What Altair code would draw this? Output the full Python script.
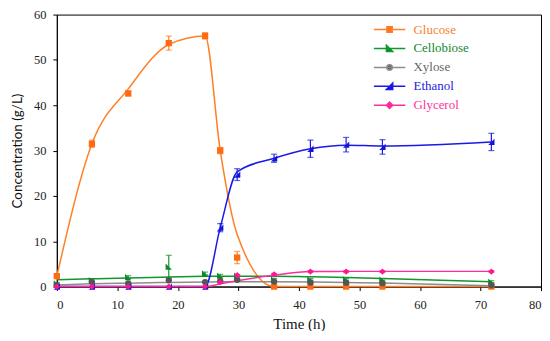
import altair as alt
import pandas as pd

# ---- data ----
times = [0, 5.8, 11.8, 18.5, 24.5, 27, 29.8, 35.9, 41.9, 47.8, 53.8, 71.8]
series = ["Glucose", "Cellobiose", "Xylose", "Ethanol", "Glycerol"]

glucose = [2.3, 31.5, 42.6, 53.7, 55.3, 30.0, 6.4, 0, 0, 0, 0, 0]
cellobiose = [0.7, 1.4, 2.1, 4.4, 2.9, 2.4, 2.4, 1.6, 1.6, 1.6, 1.5, 1.1]
xylose = [0.3, 1.0, 0.7, 1.4, 1.0, 1.2, 1.5, 1.1, 0.9, 0.85, 0.75, 0.3]
ethanol = [0, 0, 0, 0, 0, 13.0, 24.7, 28.3, 30.4, 31.3, 30.8, 31.9]
glycerol = [0, 0, 0, 0, 0, 1.0, 2.5, 2.7, 3.3, 3.3, 3.3, 3.3]

glucose_err = [0.4, 0.8, 0.5, 1.55, 0.7, 0.7, 1.35, 0, 0, 0, 0, 0]
cellobiose_err = [0.2, 0.3, 0.3, 2.5, 0.3, 0.3, 0.2, 0.2, 0.2, 0.2, 0.2, 0.2]
xylose_err = [0, 0, 0, 0, 0, 0, 0, 0, 0, 0, 0, 0]
ethanol_err = [0, 0, 0, 0, 0, 0.9, 1.3, 0.9, 1.9, 1.6, 1.6, 1.9]
glycerol_err = [0, 0, 0, 0, 0, 0.2, 0.2, 0.2, 0.2, 0.2, 0.2, 0.2]

# fitted curves as drawn in the reference (read at the same times)
glucose_curve = [2.3, 31.5, 43.6, 53.4, 55.3, 30.0, 11.5, 0, 0, 0, 0, 0]
cellobiose_curve = [1.5, 1.7, 1.9, 2.1, 2.25, 2.3, 2.3, 2.3, 2.15, 2.0, 1.8, 1.05]
xylose_curve = [0.35, 0.6, 0.75, 0.9, 1.0, 1.05, 1.05, 1.05, 1.0, 0.9, 0.8, 0.2]
ethanol_curve = [0, 0, 0, 0, 0, 13.0, 25.3, 28.3, 30.4, 31.2, 31.0, 31.9]
glycerol_curve = [0, 0, 0, 0, 0, 0.6, 1.3, 2.5, 3.3, 3.35, 3.35, 3.35]

marker_colors = ["#FF6A13", "#0A8A24", "#555555", "#1414DC", "#FF1493"]
line_colors = ["#FF7F27", "#12962E", "#8C8C8C", "#1A1AE8", "#FF2D9B"]
label_colors = ["#F6822D", "#138A2C", "#666666", "#2222DD", "#FF3399"]

marker_shapes = ["square", "M-1,-1L1,1L-1,1Z", "circle", "M1,-1L1,1L-1,1Z", "diamond"]
legend_shapes = [
    "M-1.75,0H1.75M-0.3,-0.3H0.3V0.3H-0.3Z",
    "M-1.75,0H1.75M-0.35,-0.35L0.35,0.35H-0.35Z",
    "M-1.75,0H1.75M-0.3,0A0.3,0.3,0,1,0,0.3,0A0.3,0.3,0,1,0,-0.3,0Z",
    "M-1.75,0H1.75M0.35,-0.35V0.35H-0.35Z",
    "M-1.75,0H1.75M0,-0.35L0.35,0L0,0.35L-0.35,0Z",
]

values = [glucose, cellobiose, xylose, ethanol, glycerol]
errors = [glucose_err, cellobiose_err, xylose_err, ethanol_err, glycerol_err]
curves = [glucose_curve, cellobiose_curve, xylose_curve, ethanol_curve, glycerol_curve]

rows, crows = [], []
for k, name in enumerate(series):
    for i, t in enumerate(times):
        rows.append({"time": t, "series": name, "value": values[k][i],
                     "err": errors[k][i],
                     "lo": values[k][i] - errors[k][i], "hi": values[k][i] + errors[k][i]})
        crows.append({"time": t, "series": name, "value": curves[k][i]})
pts = pd.DataFrame(rows)
crv = pd.DataFrame(crows)

serif = "'Liberation Serif', 'Times New Roman', serif"
sans = "Lato, 'Open Sans', sans-serif"
xs = alt.Scale(domain=[0, 80], nice=False)
ys = alt.Scale(domain=[0, 60], nice=False)

axis_common = dict(grid=False, labelColor="#222", titleColor="#111",
                   titleFontWeight="normal", tickSize=4,
                   domainColor="#000", tickColor="#000")
x_axis = alt.Axis(values=list(range(0, 81, 10)), title="Time (h)",
                  labelFont=serif, labelFontSize=12.5, titleFont=serif, titleFontSize=15,
                  titlePadding=6, labelPadding=8, **axis_common)
y_axis = alt.Axis(values=list(range(0, 61, 10)), title="Concentration (g/L)",
                  labelFont=serif, labelFontSize=12.5, titleFont=sans, titleFontSize=13.5,
                  titlePadding=9, labelPadding=7, **axis_common)

stroke_scale = alt.Scale(domain=series, range=line_colors)
fill_scale = alt.Scale(domain=series, range=marker_colors)

lines = alt.Chart(crv).mark_line(interpolate="monotone", strokeWidth=1.5).encode(
    x=alt.X("time:Q", scale=xs, axis=x_axis),
    y=alt.Y("value:Q", scale=ys, axis=y_axis),
    stroke=alt.Stroke("series:N", scale=stroke_scale, legend=None),
    detail="series:N", order="time:Q")

eb = pts[pts["err"] > 0]
ebars = alt.Chart(eb).mark_rule(strokeWidth=1.2).encode(
    x="time:Q", y="lo:Q", y2="hi:Q",
    stroke=alt.Stroke("series:N", scale=stroke_scale, legend=None))
caps_lo = alt.Chart(eb).mark_tick(orient="horizontal", size=6, thickness=1.2).encode(
    x="time:Q", y="lo:Q",
    color=alt.Color("series:N", scale=alt.Scale(domain=series, range=line_colors), legend=None))
caps_hi = alt.Chart(eb).mark_tick(orient="horizontal", size=6, thickness=1.2).encode(
    x="time:Q", y="hi:Q",
    color=alt.Color("series:N", scale=alt.Scale(domain=series, range=line_colors), legend=None))

points = alt.Chart(pts).mark_point(filled=True, opacity=1, size=40).encode(
    x="time:Q", y="value:Q",
    fill=alt.Fill("series:N", scale=fill_scale, legend=None),
    shape=alt.Shape("series:N", scale=alt.Scale(domain=series, range=marker_shapes), legend=None))

expr = ""
for name, c in zip(series, label_colors):
    expr += f"datum.value == '{name}' ? '{c}' : "
expr += "'#000'"

leg = alt.Legend(title=None, orient="none", legendX=324, legendY=5,
                 symbolSize=324, symbolStrokeWidth=1.5,
                 labelOffset=14, rowPadding=2, padding=0,
                 labelFont=serif, labelFontSize=13,
                 labelColor=alt.ExprRef(expr=expr))
legend_layer = alt.Chart(pts).transform_filter("false").mark_point(
    filled=True, opacity=1, strokeWidth=1.5).encode(
    x="time:Q", y="value:Q",
    fill=alt.Fill("series:N", scale=alt.Scale(domain=series, range=marker_colors), legend=leg),
    stroke=alt.Stroke("series:N", scale=alt.Scale(domain=series, range=line_colors), legend=leg),
    shape=alt.Shape("series:N", scale=alt.Scale(domain=series, range=legend_shapes), legend=leg))

chart = alt.layer(lines, ebars, caps_lo, caps_hi, points, legend_layer).resolve_scale(
    fill="independent", stroke="independent", shape="independent"
).properties(
    width=486, height=273,
    autosize=alt.AutoSizeParams(type="none"),
    padding={"left": 49, "top": 6, "right": 1, "bottom": 44},
).configure_view(stroke="#000", strokeWidth=1)

chart.save("out.html", embed_options={"renderer": "svg", "actions": False})
